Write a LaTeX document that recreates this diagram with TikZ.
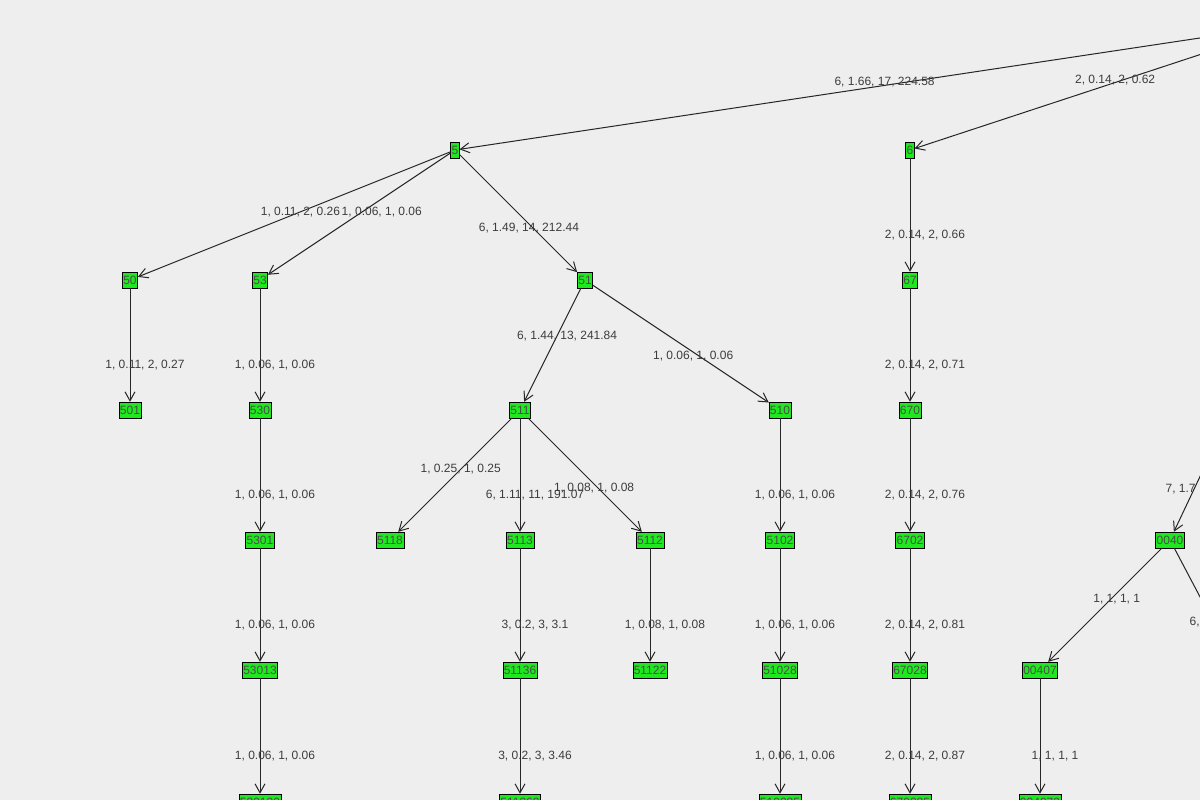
\documentclass[tikz,border=0pt]{standalone}
\usepackage{fontspec}
\setmainfont{Liberation Sans}
\usetikzlibrary{arrows.meta}
\definecolor{bggray}{RGB}{238,238,238}
\definecolor{nodegreen}{RGB}{30,232,30}
\definecolor{txtgray}{RGB}{60,60,60}
\tikzset{%
  % Specifications for style of nodes:
         vert/.style = {rectangle, draw = black, fill=nodegreen, inner sep=1pt, minimum height=16pt, font=\fontsize{12}{12}\selectfont, text=black!70},
         lbl/.style  = {font=\fontsize{12}{12}\selectfont, text=txtgray, inner sep=0pt},
         vlbl/.style = {lbl, pos=0.64, xshift=15pt, yshift=-4pt},
         link/.style = {-{Straight Barb[length=9pt,width=10pt]}, black!85, line width=1pt},
}
\begin{document}
\begin{tikzpicture}[x=1pt, y=-1pt]
    \fill[bggray] (0,0) rectangle (1200,800);
    \useasboundingbox (0,0) rectangle (1200,800);
    \clip (0,0) rectangle (1200,800);
    % Draw nodes
    \coordinate (root)  at (1293,24);
    \coordinate (up40)  at (1222,430);
    \coordinate (dn40)  at (1227,648);
    \node (n5)      [vert] at (455,150) {5};
    \node (n6)      [vert] at (910,150) {6};
    \node (n50)     [vert] at (130,280) {50};
    \node (n53)     [vert] at (260,280) {53};
    \node (n51)     [vert] at (585,280) {51};
    \node (n67)     [vert] at (910,280) {67};
    \node (n501)    [vert] at (130,410) {501};
    \node (n530)    [vert] at (260,410) {530};
    \node (n511)    [vert] at (520,410) {511};
    \node (n510)    [vert] at (780,410) {510};
    \node (n670)    [vert] at (910,410) {670};
    \node (n5301)   [vert] at (260,540) {5301};
    \node (n5118)   [vert] at (390,540) {5118};
    \node (n5113)   [vert] at (520,540) {5113};
    \node (n5112)   [vert] at (650,540) {5112};
    \node (n5102)   [vert] at (780,540) {5102};
    \node (n6702)   [vert] at (910,540) {6702};
    \node (n0040)   [vert] at (1170,540) {0040};
    \node (n53013)  [vert] at (260,670) {53013};
    \node (n51136)  [vert] at (520,670) {51136};
    \node (n51122)  [vert] at (650,670) {51122};
    \node (n51028)  [vert] at (780,670) {51028};
    \node (n67028)  [vert] at (910,670) {67028};
    \node (n00407)  [vert] at (1040,670) {00407};
    \node (n530130) [vert] at (260,802) {530130};
    \node (n511360) [vert] at (520,802) {511360};
    \node (n510285) [vert] at (780,802) {510285};
    \node (n670285) [vert] at (910,802) {670285};
    \node (n004073) [vert] at (1040,802) {004073};

    % Draw arrows
    \draw[link] (root) -- node[lbl, pos=0.49, yshift=3pt] {6, 1.66, 17, 224.58} (n5);
    \draw[link] (root) -- node[lbl, pos=0.47, yshift=2pt] {2, 0.14, 2, 0.62} (n6);
    \draw[link] (n5) -- node[lbl, pos=0.48] {1, 0.11, 2, 0.26} (n50);
    \draw[link] (n5) -- node[lbl, pos=0.42, xshift=8pt, yshift=-8pt] {1, 0.06, 1, 0.06} (n53);
    \draw[link] (n5) -- node[lbl, pos=0.59, yshift=-4pt] {6, 1.49, 14, 212.44} (n51);
    \draw[link] (n6) -- node[vlbl] {2, 0.14, 2, 0.66} (n67);
    \draw[link] (n50) -- node[vlbl] {1, 0.11, 2, 0.27} (n501);
    \draw[link] (n53) -- node[vlbl] {1, 0.06, 1, 0.06} (n530);
    \draw[link] (n51) -- node[lbl, pos=0.42, xshift=10pt] {6, 1.44, 13, 241.84} (n511);
    \draw[link] (n51) -- node[lbl, pos=0.57, yshift=-4pt] {1, 0.06, 1, 0.06} (n510);
    \draw[link] (n67) -- node[vlbl] {2, 0.14, 2, 0.71} (n670);
    \draw[link] (n530) -- node[vlbl] {1, 0.06, 1, 0.06} (n5301);
    \draw[link] (n511) -- node[lbl, pos=0.45] {1, 0.25, 1, 0.25} (n5118);
    \draw[link] (n511) -- node[vlbl] {6, 1.11, 11, 191.07} (n5113);
    \draw[link] (n511) -- node[lbl, pos=0.58, yshift=-4pt] {1, 0.08, 1, 0.08} (n5112);
    \draw[link] (n510) -- node[vlbl] {1, 0.06, 1, 0.06} (n5102);
    \draw[link] (n670) -- node[vlbl] {2, 0.14, 2, 0.76} (n6702);
    \draw[link] (up40) -- node[lbl, anchor=west, pos=0.6, xshift=-28pt, yshift=2pt] {7, 1.7} (n0040);
    \draw[link] (n5301) -- node[vlbl] {1, 0.06, 1, 0.06} (n53013);
    \draw[link] (n5113) -- node[vlbl] {3, 0.2, 3, 3.1} (n51136);
    \draw[link] (n5112) -- node[vlbl] {1, 0.08, 1, 0.08} (n51122);
    \draw[link] (n5102) -- node[vlbl] {1, 0.06, 1, 0.06} (n51028);
    \draw[link] (n6702) -- node[vlbl] {2, 0.14, 2, 0.81} (n67028);
    \draw[link] (n0040) -- node[lbl, pos=0.45, xshift=6pt] {1, 1, 1, 1} (n00407);
    \draw[black!85, line width=1pt] (n0040) -- node[lbl, anchor=west, pos=0.7, xshift=-22pt, yshift=-4pt] {6, 0.7} (dn40);
    \draw[link] (n53013) -- node[vlbl] {1, 0.06, 1, 0.06} (n530130);
    \draw[link] (n51136) -- node[vlbl] {3, 0.2, 3, 3.46} (n511360);
    \draw[link] (n51028) -- node[vlbl] {1, 0.06, 1, 0.06} (n510285);
    \draw[link] (n67028) -- node[vlbl] {2, 0.14, 2, 0.87} (n670285);
    \draw[link] (n00407) -- node[vlbl] {1, 1, 1, 1} (n004073);
\end{tikzpicture}
\end{document}
